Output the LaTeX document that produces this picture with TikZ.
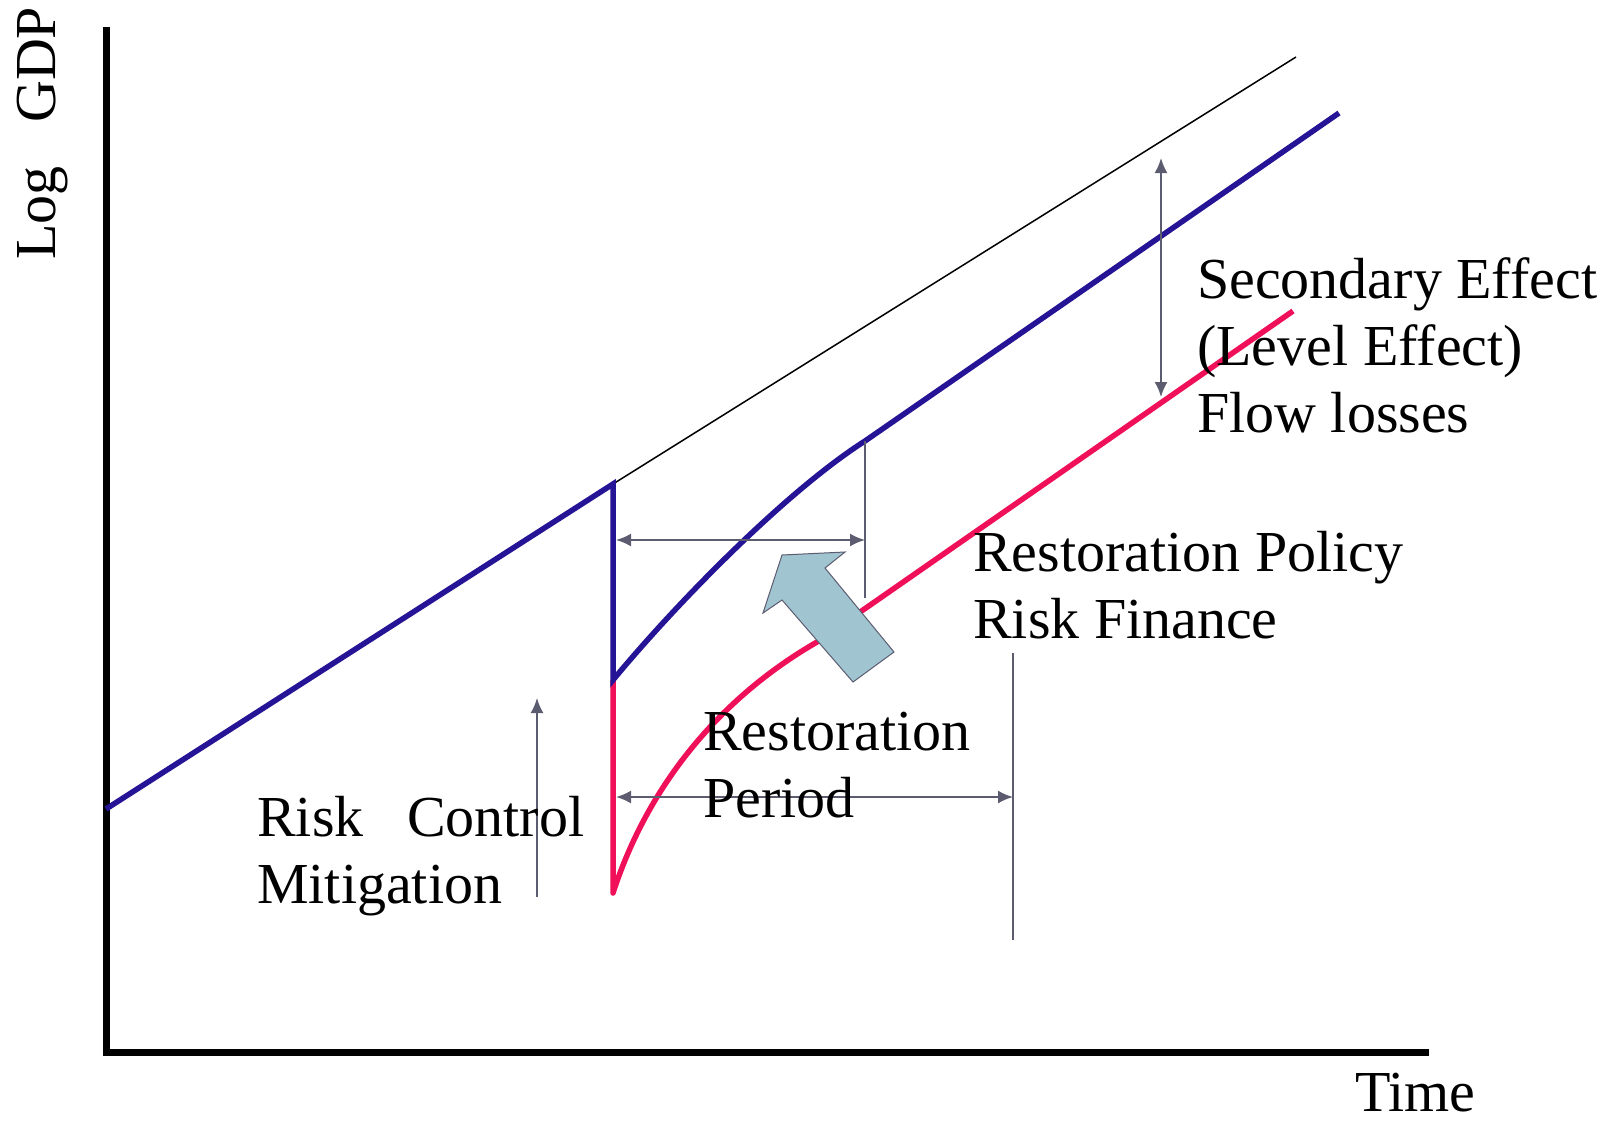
\documentclass[tikz,border=0pt]{standalone}
\usepackage{fontspec}
\setmainfont{Liberation Serif}
\usetikzlibrary{arrows.meta}
\definecolor{pBlue}{RGB}{38,20,150}
\definecolor{pRed}{RGB}{240,16,90}
\definecolor{pGray}{RGB}{92,92,112}
\definecolor{pFill}{RGB}{160,196,208}
\tikzset{
    axis line/.style={line width=7pt, black, line join=miter},
    gdp line/.style={line width=5.5pt, line join=miter},
    dim/.style={line width=2pt, pGray, {Latex[length=15pt,width=13pt]}-{Latex[length=15pt,width=13pt]}},
    dim up/.style={line width=2pt, pGray, -{Latex[length=15pt,width=13pt]}},
    guide/.style={line width=2pt, pGray},
    lbl/.style={anchor=base west, inner sep=0pt, align=left, font=\fontsize{58}{67}\selectfont}
}

\begin{document}
\begin{tikzpicture}[x=1pt,y=-1pt]
\useasboundingbox (0,0) rectangle (1617,1125);
\coordinate (shock)  at (613,484);
\coordinate (trough) at (613,680);
\coordinate (bottom) at (613,893);
\coordinate (recov)  at (865,441);
\coordinate (redjoin) at (817,642);
% axes
\draw[axis line] (106,27) -- (106,1052) -- (1429,1052);
\node[lbl,rotate=90] (ylab) at (55,260) {Log\hspace{0.75em}GDP};
\node[lbl] (xlab) at (1355,1111) {Time};
% trend and paths
\draw[line width=1.5pt] (shock) -- (1296,57);
\draw[gdp line,pRed,line join=round] (trough) -- (bottom) .. controls (648,785) and (720,698) .. (redjoin) -- (1293,311);
\draw[gdp line,pBlue] (106,809) -- (shock) -- (trough) .. controls (675,605) and (785,492) .. (recov) -- (1339,113);
% big arrow
\filldraw[fill=pFill,draw=pGray,line width=1pt] (782,555) -- (845,552) -- (825,568) -- (894,652) -- (853,682) -- (782,600) -- (763,613) -- cycle;
% dimension lines
\coordinate (a1) at (616,540);
\coordinate (a2) at (865,540);
\draw[guide] (recov) -- (865,598);
\draw[dim] (a1) -- (a2);
\coordinate (b1) at (616,797);
\coordinate (b2) at (1013,797);
\draw[guide] (1013,653) -- (1013,940);
\draw[dim] (b1) -- (b2);
\coordinate (c1) at (1161,158);
\coordinate (c2) at (1161,397);
\draw[dim] (c1) -- (c2);
\coordinate (d1) at (537,897);
\coordinate (d2) at (537,698);
\draw[dim up] (d1) -- (d2);
% labels (base = last line)
\node[lbl] (second) at (1197,432) {Secondary Effect\\(Level Effect)\\Flow losses};
\node[lbl] (policy) at (973,638) {Restoration Policy\\Risk Finance};
\node[lbl] (period) at (703,817) {Restoration\\Period};
\node[lbl] (control) at (257,903) {Risk\hspace{0.75em}Control\\Mitigation};
\end{tikzpicture}
\end{document}
